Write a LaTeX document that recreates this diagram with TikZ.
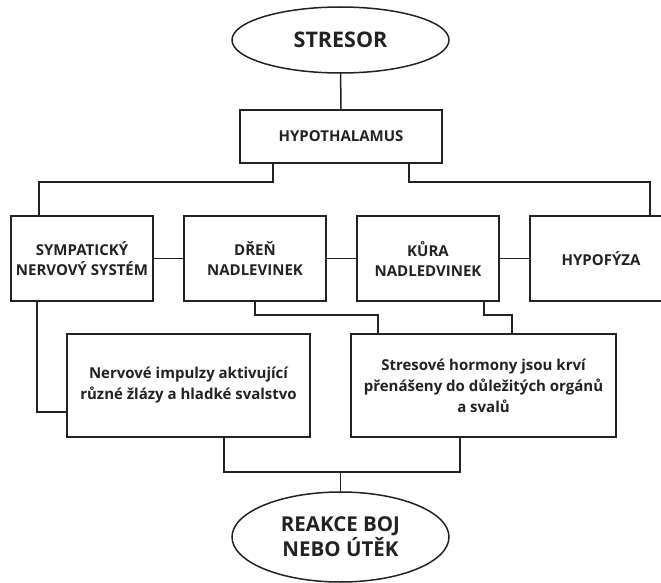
\documentclass[tikz,border=0pt]{standalone}
\usepackage{fontspec}
\setmainfont{Open Sans}
\usepackage{tikz}
\usetikzlibrary{positioning,shapes.geometric}
\definecolor{ink}{HTML}{222222}

\begin{document}
\begin{tikzpicture}[x=1pt, y=1pt,
  every node/.style={inner sep=0pt, outer sep=0pt, align=center, text=ink},
  oval/.style={draw=ink, line width=1.5pt, ellipse, minimum width=217pt, font=\bfseries\fontsize{20.5}{25}\selectfont},
  box/.style={draw=ink, line width=1.5pt, rectangle, minimum width=142pt, minimum height=85pt, font=\bfseries\fontsize{15}{20}\selectfont},
  note/.style={draw=ink, line width=1.5pt, rectangle, minimum height=103pt, font=\bfseries\fontsize{15}{21}\selectfont},
  link/.style={draw=ink, line width=1.5pt}]
\useasboundingbox (0,0) rectangle (661,-583);
\node[oval, minimum height=66pt, font=\bfseries\fontsize{21.5}{25}\selectfont] (stresor) at (340.5,-40) {STRESOR};
\node[box, minimum width=202pt, minimum height=53pt] (hypo) at (341,-136.5) {HYPOTHALAMUS};
\node[box] (symp) at (82,-258.5) {SYMPATICKÝ\\NERVOVÝ SYSTÉM};
\node[box, right=31pt of symp] (dren) {DŘEŇ\\NADLEVINEK};
\node[box, right=31pt of dren] (kura) {KŮRA\\NADLEDVINEK};
\node[box, right=31pt of kura] (hypof) {HYPOFÝZA};
\node[note, minimum width=243pt] (nerv) at (188.5,-385.5) {Nervové impulzy aktivující\\různé žlázy a hladké svalstvo};
\node[note, minimum width=265pt] (stres) at (483.5,-385.5) {Stresové hormony jsou krví\\přenášeny do důležitých orgánů\\a svalů};
\node[oval, minimum height=90pt] (reakce) at (340.5,-537) {REAKCE BOJ\\NEBO ÚTĚK};
\coordinate (join) at (340.5,-472);
% connectors
\draw[link] (stresor) -- (hypo);
\draw[link] ([xshift=-68pt]hypo.south) -- ++(0,-19) -| ([xshift=-43pt]symp.north);
\draw[link] ([xshift=68pt]hypo.south) -- ++(0,-19) -| ([xshift=49pt]hypof.north);
\foreach \a/\b in {symp/dren, dren/kura, kura/hypof} \draw[link] (\a) -- (\b);
\draw[link] ([xshift=-45pt]symp.south) |- ([yshift=-26.5pt]nerv.west);
\draw[link] (dren.south) -- ++(0,-14) -| ([xshift=-105.5pt]stres.north);
\draw[link] ([xshift=56pt]kura.south) -- ++(0,-14) -| ([xshift=28.5pt]stres.north);
\draw[link] ([xshift=35.5pt]nerv.south) |- (join) -| ([xshift=-23.5pt]stres.south);
\draw[link] (join) -- (reakce);
\end{tikzpicture}
\end{document}
